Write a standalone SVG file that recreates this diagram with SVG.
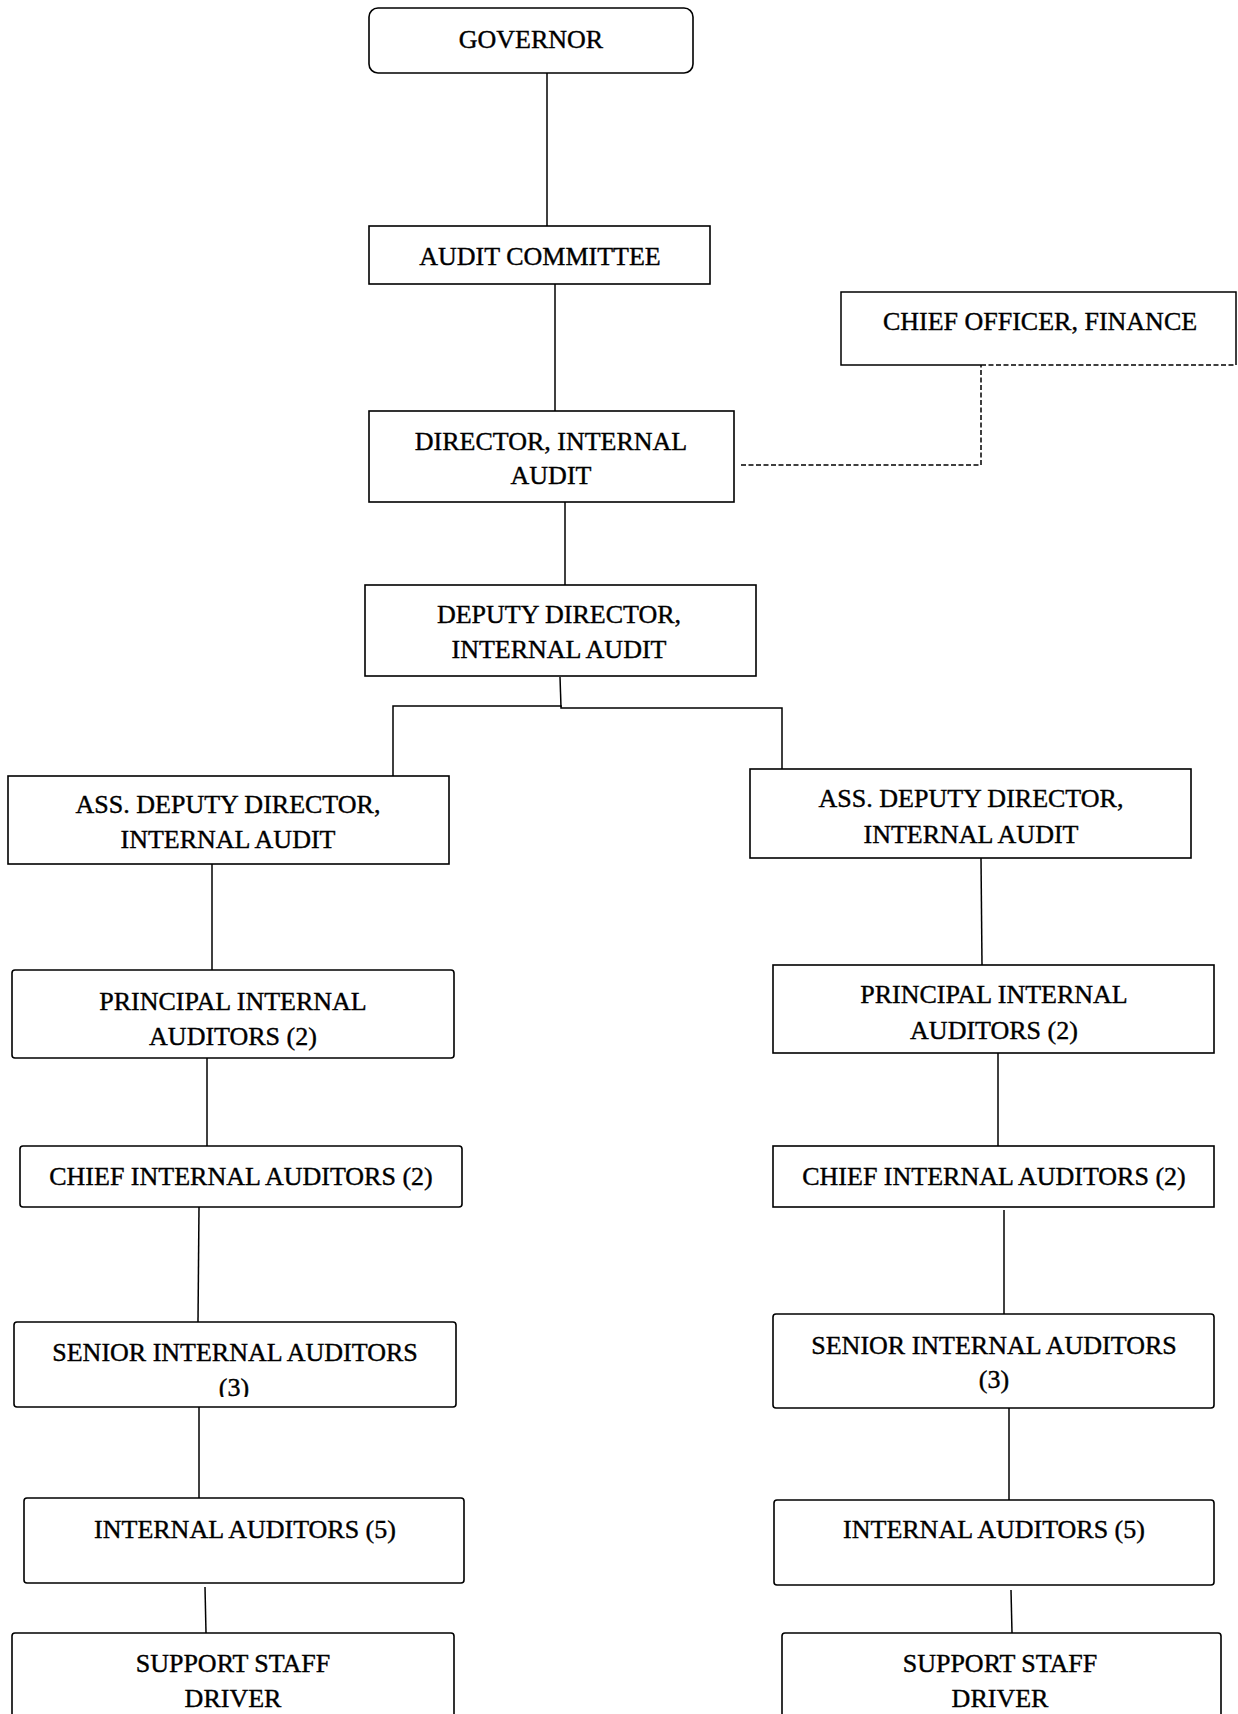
<svg xmlns="http://www.w3.org/2000/svg" width="1238" height="1714" viewBox="0 0 1238 1714">
<style>
.box{fill:#fff;stroke:#000;stroke-width:1.6}
.t{font-family:"Liberation Serif","Times New Roman",serif;font-size:26px;fill:#000;stroke:#000;stroke-width:0.4;text-anchor:middle}
.ln{stroke:#000;stroke-width:1.5;fill:none}
.dash{stroke:#000;stroke-width:1.5;fill:none;stroke-dasharray:5,2.5}
</style>
<defs>
<clipPath id="clipSen"><rect x="14" y="1322" width="442" height="75"/></clipPath>
</defs>
<rect width="1238" height="1714" fill="#fff"/>
<g id="connectors">
<line class="ln" x1="547" y1="73" x2="547" y2="226"/>
<line class="ln" x1="555" y1="284" x2="555" y2="411"/>
<line class="ln" x1="565" y1="502" x2="565" y2="585"/>
<polyline class="ln" points="560,677 561,707"/>
<polyline class="ln" points="393,776 393,706 561,706 561,708 782,708 782,769"/>
<polyline class="dash" points="741,465 981,465 981,365"/>
<line class="ln" x1="212" y1="864" x2="212" y2="970"/>
<line class="ln" x1="981" y1="858" x2="982" y2="965"/>
<line class="ln" x1="207" y1="1058" x2="207" y2="1146"/>
<line class="ln" x1="998" y1="1053" x2="998" y2="1146"/>
<line class="ln" x1="199" y1="1207" x2="198" y2="1322"/>
<line class="ln" x1="1004" y1="1210" x2="1004" y2="1314"/>
<line class="ln" x1="199" y1="1407" x2="199" y2="1498"/>
<line class="ln" x1="1009" y1="1408" x2="1009" y2="1500"/>
<line class="ln" x1="205" y1="1587" x2="206" y2="1633"/>
<line class="ln" x1="1011" y1="1590" x2="1012" y2="1633"/>
</g>
<g id="governor">
<rect class="box" x="369" y="8" width="324" height="65" rx="9"/>
<text class="t" x="531" y="48">GOVERNOR</text>
</g>
<g id="audit-committee">
<rect class="box" x="369" y="226" width="341" height="58"/>
<text class="t" x="540" y="265">AUDIT COMMITTEE</text>
</g>
<g id="chief-officer-finance">
<path class="ln" d="M981,365 L841,365 L841,292 L1236,292 L1236,365" stroke-width="1.6"/>
<line class="dash" x1="981" y1="365" x2="1236" y2="365"/>
<text class="t" x="1040" y="330">CHIEF OFFICER, FINANCE</text>
</g>
<g id="director">
<rect class="box" x="369" y="411" width="365" height="91"/>
<text class="t" x="551" y="450">DIRECTOR, INTERNAL</text>
<text class="t" x="551" y="484">AUDIT</text>
</g>
<g id="deputy-director">
<rect class="box" x="365" y="585" width="391" height="91"/>
<text class="t" x="559" y="623">DEPUTY DIRECTOR,</text>
<text class="t" x="559" y="658">INTERNAL AUDIT</text>
</g>
<g id="ass-deputy-left">
<rect class="box" x="8" y="776" width="441" height="88"/>
<text class="t" x="228" y="813">ASS. DEPUTY DIRECTOR,</text>
<text class="t" x="228" y="848">INTERNAL AUDIT</text>
</g>
<g id="ass-deputy-right">
<rect class="box" x="750" y="769" width="441" height="89"/>
<text class="t" x="971" y="807">ASS. DEPUTY DIRECTOR,</text>
<text class="t" x="971" y="843">INTERNAL AUDIT</text>
</g>
<g id="principal-left">
<rect class="box" x="12" y="970" width="442" height="88" rx="3"/>
<text class="t" x="233" y="1010">PRINCIPAL INTERNAL</text>
<text class="t" x="233" y="1045">AUDITORS (2)</text>
</g>
<g id="principal-right">
<rect class="box" x="773" y="965" width="441" height="88"/>
<text class="t" x="994" y="1003">PRINCIPAL INTERNAL</text>
<text class="t" x="994" y="1039">AUDITORS (2)</text>
</g>
<g id="chief-left">
<rect class="box" x="20" y="1146" width="442" height="61" rx="3"/>
<text class="t" x="241" y="1185">CHIEF INTERNAL AUDITORS (2)</text>
</g>
<g id="chief-right">
<rect class="box" x="773" y="1146" width="441" height="61"/>
<text class="t" x="994" y="1185">CHIEF INTERNAL AUDITORS (2)</text>
</g>
<g id="senior-left">
<rect class="box" x="14" y="1322" width="442" height="85" rx="3"/>
<text class="t" x="235" y="1361">SENIOR INTERNAL AUDITORS</text>
<text class="t" x="234" y="1396" clip-path="url(#clipSen)">(3)</text>
</g>
<g id="senior-right">
<rect class="box" x="773" y="1314" width="441" height="94" rx="3"/>
<text class="t" x="994" y="1354">SENIOR INTERNAL AUDITORS</text>
<text class="t" x="994" y="1388">(3)</text>
</g>
<g id="internal-left">
<rect class="box" x="24" y="1498" width="440" height="85" rx="3"/>
<text class="t" x="245" y="1538">INTERNAL AUDITORS (5)</text>
</g>
<g id="internal-right">
<rect class="box" x="774" y="1500" width="440" height="85" rx="3"/>
<text class="t" x="994" y="1538">INTERNAL AUDITORS (5)</text>
</g>
<g id="support-left">
<rect class="box" x="12" y="1633" width="442" height="100" rx="3"/>
<text class="t" x="233" y="1672">SUPPORT STAFF</text>
<text class="t" x="233" y="1707">DRIVER</text>
</g>
<g id="support-right">
<rect class="box" x="782" y="1633" width="439" height="100" rx="3"/>
<text class="t" x="1000" y="1672">SUPPORT STAFF</text>
<text class="t" x="1000" y="1707">DRIVER</text>
</g>
</svg>
